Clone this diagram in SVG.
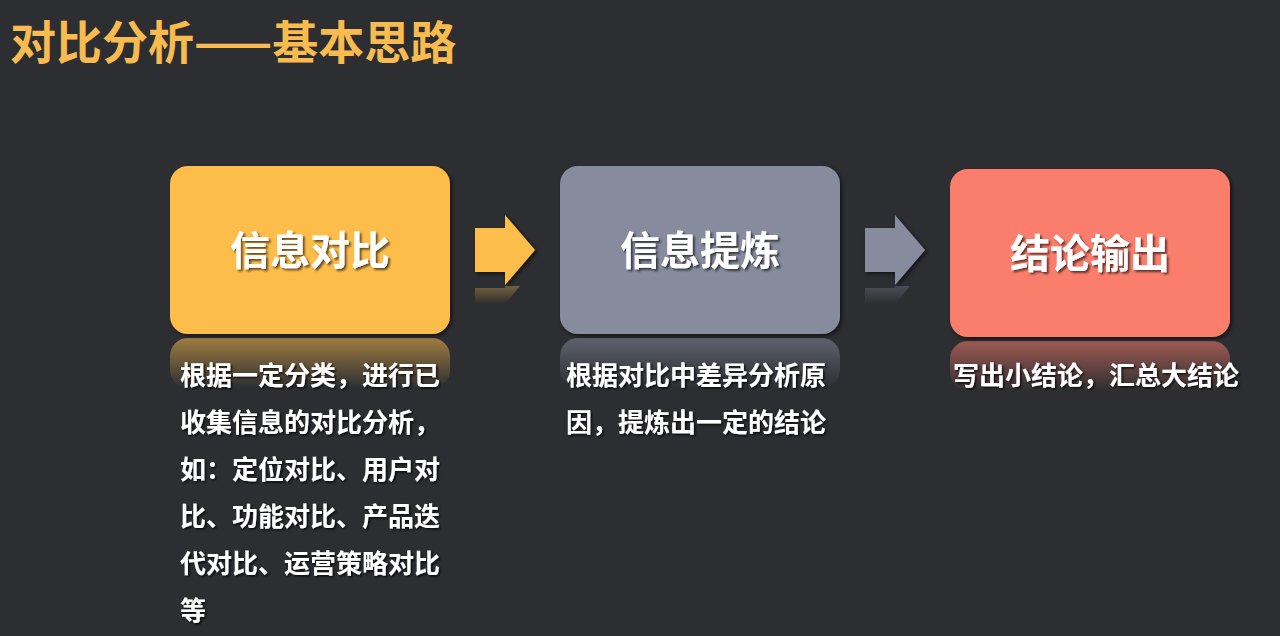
<svg xmlns="http://www.w3.org/2000/svg" width="1280" height="636" viewBox="0 0 1280 636">
<defs>
<style>
.t{font-family:"Noto Sans CJK SC","Noto Sans",sans-serif;font-weight:bold;}
.title{font-size:46px;fill:#f7bb4f;}
.lbl{font-size:40px;fill:#ffffff;text-anchor:middle;filter:url(#sh);}
.desc{font-size:26px;fill:#ffffff;filter:url(#sh2);}
</style>
<filter id="sh" x="-10%" y="-20%" width="130%" height="150%">
<feDropShadow dx="2" dy="2" stdDeviation="1" flood-color="#000" flood-opacity="0.6"/>
</filter>
<filter id="sh2" x="-10%" y="-20%" width="130%" height="150%">
<feDropShadow dx="1.5" dy="1.5" stdDeviation="0.8" flood-color="#000" flood-opacity="0.8"/>
</filter>
<filter id="bs" x="-10%" y="-10%" width="130%" height="130%">
<feDropShadow dx="2" dy="2" stdDeviation="2" flood-color="#000" flood-opacity="0.6"/>
</filter>
<linearGradient id="r1" x1="0" y1="0" x2="0" y2="1"><stop offset="0" stop-color="#fdbd4c" stop-opacity="0.55"/><stop offset="1" stop-color="#fdbd4c" stop-opacity="0"/></linearGradient>
<linearGradient id="r2" x1="0" y1="0" x2="0" y2="1"><stop offset="0" stop-color="#878b9e" stop-opacity="0.55"/><stop offset="1" stop-color="#878b9e" stop-opacity="0"/></linearGradient>
<linearGradient id="r3" x1="0" y1="0" x2="0" y2="1"><stop offset="0" stop-color="#fb7e6c" stop-opacity="0.55"/><stop offset="1" stop-color="#fb7e6c" stop-opacity="0"/></linearGradient>
<linearGradient id="a1" x1="0" y1="0" x2="0" y2="1"><stop offset="0" stop-color="#fdbd4c" stop-opacity="0.35"/><stop offset="1" stop-color="#fdbd4c" stop-opacity="0"/></linearGradient>
<linearGradient id="a2" x1="0" y1="0" x2="0" y2="1"><stop offset="0" stop-color="#878b9e" stop-opacity="0.35"/><stop offset="1" stop-color="#878b9e" stop-opacity="0"/></linearGradient>
</defs>
<rect width="1280" height="636" fill="#2d2e32"/>
<text class="t title" x="10" y="59">对比分析——基本思路</text>

<g id="node1">
<rect x="170" y="338" width="280" height="50" rx="18" fill="url(#r1)"/>
<rect x="170" y="166" width="280" height="168" rx="18" fill="#fdbd4c" filter="url(#bs)"/>
<text class="t lbl" x="310" y="265">信息对比</text>
<text class="t desc" x="180" y="385">根据一定分类，进行已</text>
<text class="t desc" x="180" y="432">收集信息的对比分析，</text>
<text class="t desc" x="180" y="479">如：定位对比、用户对</text>
<text class="t desc" x="180" y="526">比、功能对比、产品迭</text>
<text class="t desc" x="180" y="573">代对比、运营策略对比</text>
<text class="t desc" x="180" y="620">等</text>
</g>

<g id="node2">
<rect x="560" y="338" width="280" height="50" rx="18" fill="url(#r2)"/>
<rect x="560" y="166" width="280" height="168" rx="18" fill="#878b9e" filter="url(#bs)"/>
<text class="t lbl" x="700" y="265">信息提炼</text>
<text class="t desc" x="566" y="385">根据对比中差异分析原</text>
<text class="t desc" x="566" y="432">因，提炼出一定的结论</text>
</g>

<g id="node3">
<rect x="950" y="341" width="280" height="50" rx="18" fill="url(#r3)"/>
<rect x="950" y="169" width="280" height="168" rx="18" fill="#fb7e6c" filter="url(#bs)"/>
<text class="t lbl" x="1090" y="268">结论输出</text>
<text class="t desc" x="953" y="385">写出小结论，汇总大结论</text>
</g>

<g id="connectors">
<polygon points="475,288 505,288 505,286 520,286 505,304 475,304" fill="url(#a1)"/>
<polygon points="475,228 505,228 505,215 535,250 505,285 505,272 475,272" fill="#fdbd4c" filter="url(#bs)"/>
<polygon points="865,288 895,288 895,286 910,286 895,304 865,304" fill="url(#a2)"/>
<polygon points="865,228 895,228 895,215 925,250 895,285 895,272 865,272" fill="#878b9e" filter="url(#bs)"/>
</g>
</svg>
